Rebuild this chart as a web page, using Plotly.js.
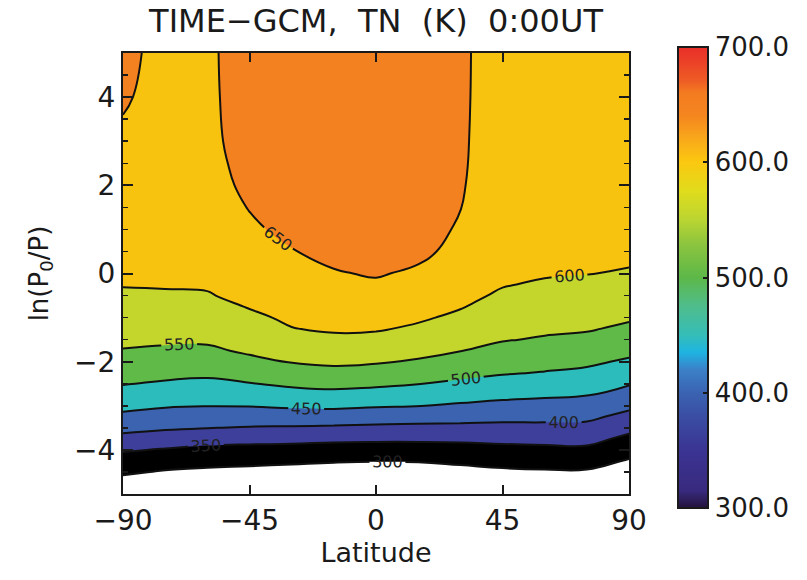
<!DOCTYPE html>
<html><head><meta charset="utf-8">
<script src="https://cdn.plot.ly/plotly-3.0.1.min.js"></script>
<style>html,body{margin:0;padding:0;background:#fff}#chart{width:807px;height:580px}</style>
</head><body><div id="chart"></div>
<script>
// Latitude columns (degrees)
const latitudes = [-90, -75, -60, -45, -30, -15, 0, 15, 30, 45, 60, 75, 90];
// Pressure levels ln(P0/P)
const levels = [-5, -4.75, -4.5, -4.25, -4, -3.75, -3.5, -3.25, -3, -2.75, -2.5, -2.25, -2, -1.75, -1.5, -1.25, -1, -0.75, -0.5, -0.25, 0, 0.5, 1, 1.5, 2, 2.5, 3, 4, 5];

// Neutral temperature TN (K) profiles, one per latitude, bottom to top
const tnLatS90 = [258,283,307,331,355,386,414,440,462,483,502,518,533,548,558,568,578,587,597,601,604,611,617,624,631,638,644,654,658];
const tnLatS75 = [246,271,296,321,346,376,406,430,454,475,495,512,528,544,556,566,576,587,597,602,606,612,618,623,627,630,633,637,640];
const tnLatS60 = [241,266,291,315,339,367,401,425,451,470,490,509,526,543,556,567,577,588,598,603,607,614,620,625,630,633,636,640,642];
const tnLatS45 = [237,262,287,312,336,364,397,425,452,475,498,519,540,556,568,581,593,602,608,613,619,631,642,652,661,668,673.5,673.5,672];
const tnLatS30 = [233,258,283,308,334,363,395,427,457,483,508,531,552,568,583,599,606,613,620,627,635,648,662,670,674,676,677,678,678];
const tnLatS15 = [229,254,279,304,331,359,393,427,459,487,513,537,558,575,592,605,613,622,630,639,647,661,668,672,675,677,679,680,680];
const tnLatEq  = [227,252,277,302,329,358,390,422,454,482,508,532,554,572,589,604,614,624,634,644,653.6,662,670,673,676,678,680,681,681];
const tnLatN15 = [228,253,278,303,330,357.5,389,419.5,451,475,501,523,545.5,562.5,578,594,605.5,615,624,633.5,643,660,668,672,674,676,677,678,678];
const tnLatN30 = [235,260,285,309,333,358,388,417,444,468.5,492,512.5,532,551,565,578,592,602.6,609,615.5,623,637,645,651,654,655.5,656,656.3,656.1];
const tnLatN45 = [242,267,292,315,337,361,387,413,438,461,483,504,521,537,552.5,563,574,584,595,602,605,610,615,619,622,625,627,630,632];
const tnLatN60 = [245,270,295,317.5,339.5,363,388,412,434.5,456.7,477.5,498,514.6,530,546,557,567,577,586.5,596,603,607,612,616,619,622,624,627,629];
const tnLatN75 = [245,270,295,318,341,364,387,409.5,431,452,471.5,491,508,524,540,554,563,572,581.5,591,601,604,608,611,614,617,619,622,624];
const tnLatN90 = [221,246,271,296,318,339,362,387,410,432,453,473,493.5,511,526.6,542.4,555,566,576,586,596.7,609,611,613,615,616,617,619,620];

const xTicks = [-90, -45, 0, 45, 90];
const cbTickVals = [300, 400, 500, 600, 700];
const cbTickText = ['300.0', '400.0', '500.0', '600.0', '700.0'];

const columns = [tnLatS90, tnLatS75, tnLatS60, tnLatS45, tnLatS30, tnLatS15, tnLatEq, tnLatN15, tnLatN30, tnLatN45, tnLatN60, tnLatN75, tnLatN90];
const z = levels.map((_, i) => columns.map(col => col[i]));

// band fill colours: below 300, 300-350, ..., above 650
const bandColors = ['#ffffff', '#000000', '#3d3f9a', '#3b63b0', '#2cbcbc', '#5fba47', '#c4d62c', '#f8c30f', '#f48120'];
const bandScale = bandColors.map((c, i) => [i / (bandColors.length - 1), c]);

const barScale = [
  [0, '#24123c'], [0.0375, '#382a7e'], [0.125, '#3b3493'], [0.2, '#3a4ea3'], [0.25, '#3a63b2'],
  [0.3, '#3b80c8'], [0.3375, '#1eb4e2'], [0.375, '#35bdb8'], [0.4375, '#4fbd8c'], [0.5, '#5db848'],
  [0.575, '#8ec53e'], [0.625, '#bad532'], [0.6875, '#e0dc1c'], [0.75, '#fbc810'], [0.8, '#f9a91a'],
  [0.85, '#f5861f'], [0.9, '#f47c20'], [0.925, '#ee5e24'], [0.975, '#eb3c28'], [1, '#e8302a']
];

const FONT = 'DejaVu Sans, sans-serif';
const INK = '#1a1a1a';

const traces = [
  {
    type: 'heatmap', x: latitudes, y: levels, z: z,
    zmin: 300, zmax: 700, colorscale: barScale, opacity: 0, hoverinfo: 'skip',
    showscale: true,
    colorbar: {
      x: (678 - 123) / 507, xanchor: 'left', xref: 'paper', xpad: 0,
      y: 1 + 6 / 441, yanchor: 'top', ypad: 0,
      len: 461, lenmode: 'pixels', thickness: 30, thicknessmode: 'pixels',
      outlinewidth: 2, outlinecolor: INK,
      tickmode: 'array', tickvals: cbTickVals, ticktext: cbTickText,
      ticks: 'inside', ticklen: 6, tickwidth: 2, tickcolor: INK,
      tickfont: {family: FONT, size: 26, color: INK}
    }
  },
  {
    type: 'contour', x: latitudes, y: levels, z: z,
    autocontour: false,
    contours: {start: 300, end: 650, size: 50, coloring: 'fill', showlabels: true,
      labelfont: {family: FONT, size: 16, color: '#222'}},
    colorscale: bandScale, showscale: false,
    line: {color: '#111', width: 2, smoothing: 1.3},
    hoverinfo: 'skip'
  }
];

const layout = {
  width: 807, height: 580,
  margin: {l: 123, r: 177, t: 53, b: 86},
  paper_bgcolor: '#fff', plot_bgcolor: '#fff',
  font: {family: FONT, color: INK},
  title: {text: 'TIME\u2212GCM,\u00a0 TN\u00a0 (K)\u00a0 0:00UT', font: {family: FONT, size: 32, color: INK},
    x: 0.5, xref: 'paper', xanchor: 'center', y: 1 - 21 / 580, yref: 'container', yanchor: 'middle'},
  xaxis: {
    range: [-90, 90], tickmode: 'array', tickvals: xTicks,
    ticks: 'inside', ticklen: 9, tickwidth: 2, tickcolor: INK,
    showline: true, mirror: 'allticks', linewidth: 2, linecolor: INK,
    showgrid: false, zeroline: false,
    tickfont: {family: FONT, size: 28, color: INK},
    title: {text: 'Latitude', font: {family: FONT, size: 27, color: INK}, standoff: 4}
  },
  yaxis: {
    range: [-5, 5], tick0: 0, dtick: 2,
    ticks: 'inside', ticklen: 10, tickwidth: 2, tickcolor: INK,
    minor: {dtick: 0.5, ticks: 'inside', ticklen: 5, tickwidth: 1.5, tickcolor: INK, showgrid: false},
    showline: true, mirror: 'allticks', linewidth: 2, linecolor: INK,
    showgrid: false, zeroline: false,
    tickfont: {family: FONT, size: 28, color: INK},
    title: {text: 'ln(P<sub>0</sub>/P)', font: {family: FONT, size: 26, color: INK}, standoff: 18}
  },
  showlegend: false
};

Plotly.newPlot('chart', traces, layout, {staticPlot: true, displayModeBar: false});
</script>
</body></html>
